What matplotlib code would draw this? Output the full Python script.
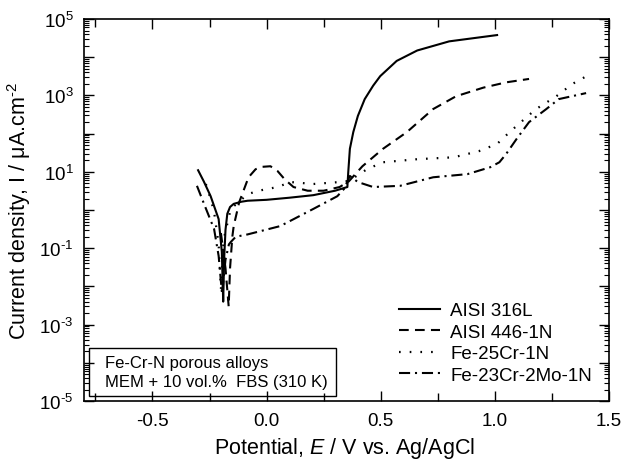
import numpy as np
import matplotlib
matplotlib.use("Agg")
import matplotlib.pyplot as plt
from matplotlib.ticker import FixedLocator, FuncFormatter, MultipleLocator
from matplotlib.patches import Rectangle

plt.rcParams['font.family'] = 'Liberation Sans'
plt.rcParams['mathtext.fontset'] = 'custom'
plt.rcParams['mathtext.rm'] = 'Liberation Sans'
plt.rcParams['mathtext.it'] = 'Liberation Sans:italic'
plt.rcParams['lines.scale_dashes'] = False

# potential (V vs Ag/AgCl) and current density (uA/cm2)
v_316 = [-0.30, -0.275, -0.245, -0.21, -0.196, -0.19, -0.186, -0.18, -0.172, -0.16, -0.144,
         -0.11, -0.083, 0.0, 0.10, 0.205, 0.30, 0.354, 0.358, 0.365, 0.38, 0.40, 0.43, 0.467,
         0.498, 0.57, 0.66, 0.80, 1.01]
i_316 = [11, 5.6, 2.3, 0.58, 0.08, 0.004, 0.05, 0.3, 0.8, 1.2, 1.45,
         1.65, 1.75, 1.85, 2.1, 2.45, 3.2, 4.0, 10, 40, 110, 290, 800, 1800,
         3200, 8000, 15000, 26000, 38000]

v_446 = [-0.20, -0.18, -0.166, -0.16, -0.15, -0.144, -0.12, -0.079, -0.048, -0.02, 0.017,
         0.048, 0.08, 0.118, 0.18, 0.25, 0.32, 0.36, 0.42, 0.51, 0.615, 0.73, 0.83, 0.95,
         1.05, 1.15]
i_446 = [0.25, 0.03, 0.003, 0.03, 0.2, 0.38, 1.6, 7.2, 11.7, 13.5, 14,
         10.5, 6.3, 4.0, 3.2, 3.2, 4.0, 5.6, 14, 40, 110, 440, 950, 1600,
         2200, 2700]

v_25cr = [-0.266, -0.245, -0.23, -0.21, -0.20, -0.188, -0.157, -0.083, -0.035, 0.048, 0.105,
          0.205, 0.32, 0.36, 0.44, 0.51, 0.66, 0.82, 0.93, 1.01, 1.065, 1.12, 1.18, 1.27,
          1.34, 1.41]
i_25cr = [4.8, 1.95, 0.9, 0.126, 0.0085, 0.17, 1.07, 2.6, 3.2, 4.0, 5.4,
          4.8, 5.4, 5.75, 11.7, 17.8, 21.4, 24, 34.7, 53.7, 110, 214, 437, 955,
          2000, 3400]

v_23cr = [-0.305, -0.27, -0.23, -0.21, -0.195, -0.18, -0.165, -0.157, -0.135, -0.083, 0.06,
          0.205, 0.31, 0.34, 0.365, 0.40, 0.467, 0.585, 0.73, 0.88, 0.98, 1.02, 1.05, 1.095,
          1.15, 1.225, 1.28, 1.40]
i_23cr = [4.3, 1.26, 0.32, 0.063, 0.0063, 0.05, 0.126, 0.145, 0.2, 0.23, 0.38,
          1.07, 2.3, 3.6, 7.8, 5.4, 4.0, 4.3, 7.2, 8.7, 13.2, 17.8, 29.5, 72,
          200, 437, 800, 1150]

labels = ['AISI 316L', 'AISI 446-1N', 'Fe-25Cr-1N', 'Fe-23Cr-2Mo-1N']


def decade_label(y, pos):
    k = int(round(np.log10(y)))
    if k % 2 == 0:
        return ''
    if k < 0:
        return r'$10^{\text{-%d}}$' % -k
    return r'$10^{%d}$' % k


fig = plt.figure(figsize=(6.22, 4.6), dpi=100)
ax = fig.add_axes([0.135, 0.126, 0.844, 0.8305])

ax.plot(v_316, i_316, color='black', lw=1.5, ls='-', label=labels[0])
ax.plot(v_446, i_446, color='black', lw=1.5, ls=(0, (7, 4.5)), label=labels[1])
ax.plot(v_25cr, i_25cr, color='black', lw=1.6, ls=(0, (1.2, 6.5)), label=labels[2])
ax.plot(v_23cr, i_23cr, color='black', lw=1.5, ls=(0, (8, 3.5, 1.5, 3.5)), label=labels[3])

ax.set_yscale('log')
ax.set_xlim(-0.8, 1.5)
ax.set_ylim(1e-5, 1e5)

ax.xaxis.set_major_locator(MultipleLocator(0.5))
ax.xaxis.set_minor_locator(MultipleLocator(0.25))
ax.xaxis.set_major_formatter(FuncFormatter(lambda x, p: '%.1f' % x))
decades = [10.0 ** k for k in range(-5, 6)]
ax.yaxis.set_major_locator(FixedLocator(decades))
ax.yaxis.set_major_formatter(FuncFormatter(decade_label))
minors = [m * 10.0 ** k for k in range(-5, 5) for m in range(2, 10)]
ax.yaxis.set_minor_locator(FixedLocator(minors))
ax.yaxis.set_minor_formatter(FuncFormatter(lambda y, p: ''))

ax.tick_params(which='both', direction='in', top=True, right=True, labelsize=13.5)
ax.tick_params(which='major', length=7, width=1)
ax.tick_params(axis='x', which='major', pad=8)
ax.tick_params(axis='y', which='major', pad=7.5)
ax.tick_params(axis='x', which='minor', length=6, width=1)
ax.tick_params(axis='y', which='minor', length=3.5, width=0.8)
for s in ax.spines.values():
    s.set_linewidth(1.2)

ax.set_xlabel('Potential, $E$ / V vs. Ag/AgCl', fontsize=15.5)
ax.set_ylabel('Current density, I / \u03bcA.cm$^{\\text{-2}}$', fontsize=15.5)
ax.yaxis.set_label_coords(-0.098, 0.5)
ax.xaxis.set_label_coords(0.497, -0.088)

ax.legend(loc='lower right', bbox_to_anchor=(0.968, 0.045), frameon=False, fontsize=13.5,
          handlelength=2.2, handletextpad=0.55, labelspacing=0.235,
          borderaxespad=0, borderpad=0)

ax.add_patch(Rectangle((0.0095, 0.013), 0.47, 0.126, transform=ax.transAxes,
                       fill=False, edgecolor='black', lw=1))
ax.text(0.04, 0.102, 'Fe-Cr-N porous alloys', transform=ax.transAxes,
        fontsize=12, va='center')
ax.text(0.04, 0.05, 'MEM + 10 vol.%  FBS (310 K)', transform=ax.transAxes,
        fontsize=12, va='center')

fig.savefig('out.png', dpi=100)
